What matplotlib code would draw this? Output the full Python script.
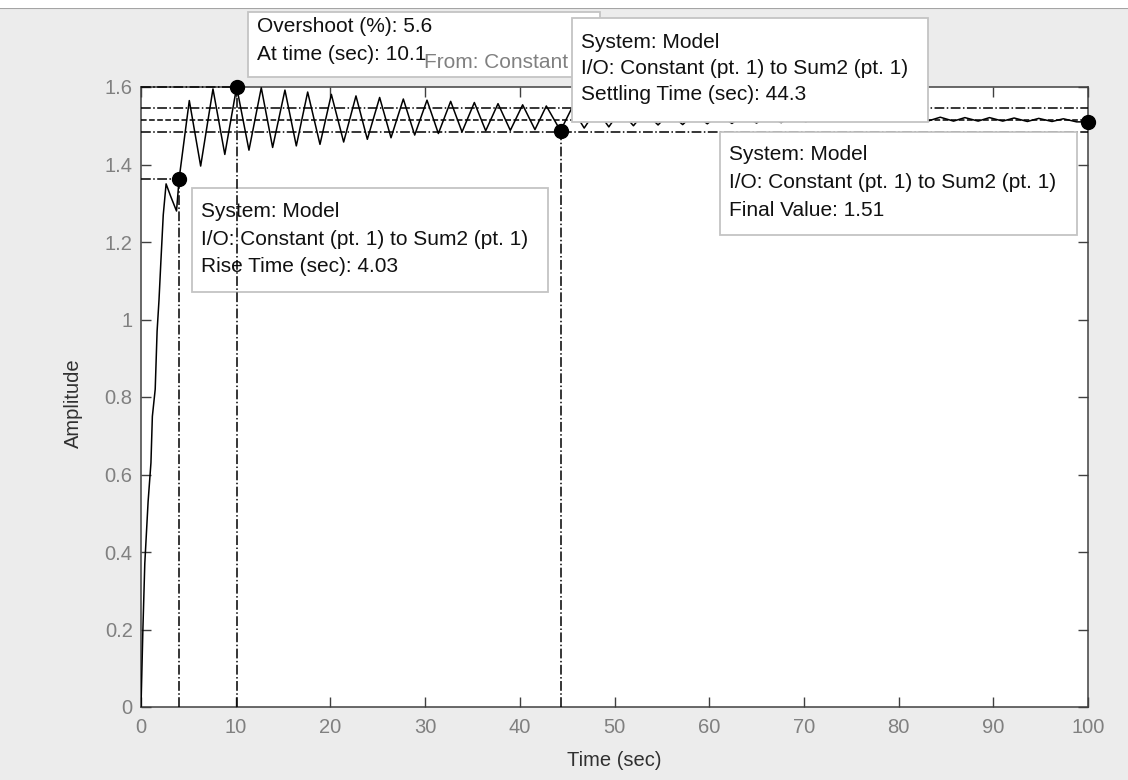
import numpy as np
import matplotlib.pyplot as plt
from matplotlib.patches import Rectangle
from matplotlib.lines import Line2D

plt.rcParams['font.family'] = ['Liberation Sans', 'DejaVu Sans']

W, H = 1128, 780

# step response: initial rise, then the peaks and troughs of the ringing
rise_t = [0.0, 0.2, 0.4, 0.75, 1.05, 1.2, 1.5, 1.7, 1.9, 2.1, 2.35, 2.65,
          3.1, 3.75, 4.03]
rise_y = [0.0, 0.2, 0.37, 0.53, 0.63, 0.75, 0.82, 0.97, 1.05, 1.15, 1.27,
          1.35, 1.32, 1.28, 1.364]
peak_t = [5.1, 7.6, 10.1, 12.7, 15.2, 17.6, 20.1, 22.7, 25.2, 27.7, 30.2,
          32.7, 35.2, 37.7, 40.3, 42.8, 45.5, 48.1, 50.6, 53.2, 55.8, 58.4,
          61.0, 63.6, 66.2, 68.8, 71.4, 74.0, 76.6, 79.2, 81.8, 84.4, 87.0,
          89.6, 92.2, 94.8, 97.4]
peak_y = [1.565, 1.595, 1.600, 1.598, 1.592, 1.587, 1.581, 1.577, 1.573,
          1.569, 1.566, 1.563, 1.560, 1.557, 1.554, 1.551, 1.546, 1.542,
          1.539, 1.536, 1.533, 1.531, 1.529, 1.527, 1.526, 1.525, 1.524,
          1.524, 1.523, 1.523, 1.522, 1.522, 1.521, 1.521, 1.520, 1.519,
          1.518]
trough_t = [6.3, 8.85, 11.4, 13.9, 16.4, 18.9, 21.4, 23.9, 26.4, 28.9,
            31.4, 33.9, 36.4, 39.0, 41.6, 44.3, 46.8, 49.4, 52.0, 54.6,
            57.2, 59.8, 62.4, 65.0, 67.6, 70.2, 72.8, 75.4, 78.0, 80.6,
            83.2, 85.8, 88.4, 91.0, 93.6, 96.2, 98.8]
trough_y = [1.396, 1.426, 1.437, 1.444, 1.448, 1.452, 1.458, 1.465, 1.469,
            1.476, 1.480, 1.484, 1.487, 1.488, 1.490, 1.487, 1.494, 1.497,
            1.500, 1.502, 1.503, 1.505, 1.506, 1.507, 1.508, 1.510, 1.512,
            1.513, 1.513, 1.513, 1.513, 1.512, 1.512, 1.512, 1.511, 1.511,
            1.510]

# step characteristics
final_value = 1.51
steady_level = 1.515
settle_band = 0.02
rise_time = 4.03
overshoot_pct = 5.6
overshoot_time = 10.1
settle_time = 44.3
settle_y = 1.487
t_end = 100

x_ticks = [0, 10, 20, 30, 40, 50, 60, 70, 80, 90, 100]
y_ticks = [0, 0.2, 0.4, 0.6, 0.8, 1.0, 1.2, 1.4, 1.6]

system_line = 'System: Model'
io_line = 'I/O: Constant (pt. 1) to Sum2 (pt. 1)'
title = 'From: Constant (pt. 1)  To: Sum2 (pt. 1)'

t = np.concatenate([rise_t, peak_t, trough_t, [t_end]])
y = np.concatenate([rise_y, peak_y, trough_y, [final_value]])
order = np.argsort(t)
t, y = t[order], y[order]

fig = plt.figure(figsize=(W / 100, H / 100), dpi=100, facecolor='#ececec')
ax = fig.add_axes([141 / W, 1 - 707 / H, (1088 - 141) / W, (707 - 87) / H])
ax.set_facecolor('white')

ax.plot(t, y, color='black', lw=1.1, zorder=3)

peak_value = steady_level * (1 + overshoot_pct / 100)
rise_value = 0.9 * steady_level
ref = dict(color='black', lw=1.1, zorder=4, clip_on=False)
ax.plot([rise_time, rise_time], [0, rise_value], ls='-.', **ref)
ax.plot([0, rise_time], [rise_value, rise_value], ls='-.', **ref)
ax.plot([overshoot_time, overshoot_time], [0, peak_value], ls='-.', **ref)
ax.plot([0, overshoot_time], [peak_value, peak_value], ls='-.', **ref)
ax.plot([settle_time, settle_time], [0, settle_y], ls='-.', **ref)
ax.plot([0, t_end], [steady_level * (1 + settle_band)] * 2, ls='-.', **ref)
ax.plot([0, t_end], [steady_level * (1 - settle_band)] * 2, ls='-.', **ref)
ax.plot([0, t_end], [steady_level] * 2, ls='--', **ref)

dots = dict(marker='o', ms=10, color='black', zorder=5, clip_on=False)
ax.plot([rise_time], [rise_value], **dots)
ax.plot([overshoot_time], [peak_value], **dots)
ax.plot([settle_time], [settle_y], **dots)
ax.plot([t_end], [final_value], **dots)

ax.set_xlim(0, t_end)
ax.set_ylim(0, 1.6)
ax.set_xticks(x_ticks)
ax.set_yticks(y_ticks)
ax.set_xticklabels([f'{v:g}' for v in x_ticks])
ax.set_yticklabels([f'{v:g}' for v in y_ticks])
ax.tick_params(direction='in', length=7, width=1, top=True, right=True,
               color='#404040', labelcolor='#808080', labelsize=14.5)
ax.tick_params(axis='x', pad=8)
ax.tick_params(axis='y', pad=6)
for sp in ax.spines.values():
    sp.set_color('#404040')
    sp.set_linewidth(1.1)

ax.set_xlabel('Time (sec)', fontsize=14.5, color='#303030')
ax.set_ylabel('Amplitude', fontsize=14.5, color='#303030')
ax.xaxis.set_label_coords(0.5, -(751 - 707) / 620)
ax.yaxis.set_label_coords((83 - 141) / 947, 0.49)


def px(x, y_):
    return x / W, 1 - y_ / H


def draw_tip(owner, left, top, right, bottom, lines, first, step, z):
    """Datatip box given in pixel coordinates."""
    x0, y0 = px(left, bottom)
    box = Rectangle((x0, y0), (right - left) / W, (bottom - top) / H,
                    transform=fig.transFigure, fc='white', ec='#c4c4c4',
                    lw=1.3, zorder=z, clip_on=False)
    if owner is fig:
        fig.patches.append(box)
    else:
        owner.add_patch(box)
    for i, line in enumerate(lines):
        tx, ty = px(left + 9, top + first + i * step)
        owner.text(tx, ty, line, transform=fig.transFigure, fontsize=15,
                   color='#111111', ha='left', va='center', zorder=z + 0.1,
                   clip_on=False)


# top strip of the window
fig.patches.append(Rectangle((0, 1 - 8 / H), 1, 8 / H, transform=fig.transFigure,
                             fc='white', ec='none', zorder=1))
fig.lines.append(Line2D([0, 1], [1 - 8 / H] * 2, transform=fig.transFigure,
                        color='#a4a4a4', lw=1.5, zorder=1))

draw_tip(fig, 248, 12, 600, 77,
         [f'Overshoot (%): {overshoot_pct}',
          f'At time (sec): {overshoot_time}'], 15, 27, 3)
tx, ty = px(606, 63)
fig.text(tx, ty, title, fontsize=15, color='#808080', ha='center',
         va='center', zorder=4)
draw_tip(fig, 572, 18, 928, 122,
         [system_line, io_line, f'Settling Time (sec): {settle_time}'],
         24, 26, 5)
draw_tip(fig, 720, 132, 1077, 235,
         [system_line, io_line, f'Final Value: {final_value}'], 23, 28, 5)
draw_tip(ax, 192, 188, 548, 292,
         [system_line, io_line, f'Rise Time (sec): {rise_time}'], 24, 27.5,
         2.5)

fig.savefig('out.png', dpi=100, facecolor=fig.get_facecolor())
